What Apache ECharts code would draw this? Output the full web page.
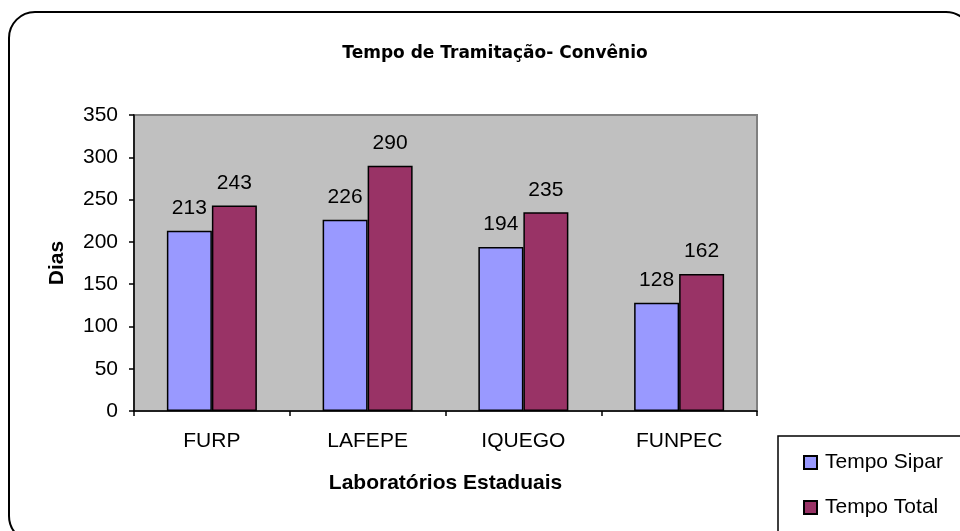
<!DOCTYPE html>
<html>
<head>
<meta charset="utf-8">
<script src="https://cdn.jsdelivr.net/npm/echarts@6/dist/echarts.min.js"></script>
<style>
  html, body { margin: 0; padding: 0; background: #fff; }
  #chart { width: 960px; height: 531px; }
</style>
</head>
<body>
<div id="chart"></div>
<script>
const categories = ['FURP', 'LAFEPE', 'IQUEGO', 'FUNPEC']
const tempoSipar = [213, 226, 194, 128]
const tempoTotal = [243, 290, 235, 162]
const yTicks = { min: 0, max: 350, interval: 50 }

const font = '"Liberation Sans", Arial, sans-serif'
const chart = echarts.init(document.getElementById('chart'), null, { renderer: 'canvas' })

const barLabel = {
  show: true,
  position: 'top',
  distance: 12,
  color: '#000',
  fontSize: 21,
  fontFamily: font
}

chart.setOption({
  animation: false,
  backgroundColor: '#fff',
  textStyle: { fontFamily: font },
  title: {
    text: 'Tempo de Tramitação- Convênio',
    left: 490,
    top: 40,
    textAlign: 'center',
    textStyle: { fontSize: 17, fontWeight: 'bold', color: '#000', fontFamily: '"DejaVu Sans", sans-serif' }
  },
  grid: {
    left: 134,
    right: 203,
    top: 115,
    bottom: 120,
    show: true,
    backgroundColor: '#C0C0C0',
    borderColor: '#808080',
    borderWidth: 2
  },
  legend: {
    orient: 'vertical',
    left: 778,
    top: 436,
    height: 90,
    padding: [16, 60, 40, 25],
    itemGap: 24,
    itemWidth: 13,
    itemHeight: 13,
    icon: 'rect',
    borderColor: '#000',
    borderWidth: 1.5,
    backgroundColor: '#fff',
    textStyle: { fontSize: 21, color: '#000', fontFamily: font, padding: [0, 0, 0, 3] },
    data: ['Tempo Sipar', 'Tempo Total']
  },
  xAxis: {
    type: 'category',
    data: categories,
    name: 'Laboratórios Estaduais',
    nameLocation: 'middle',
    nameGap: 62,
    nameTextStyle: { fontSize: 21, fontWeight: 'bold', color: '#000', fontFamily: font },
    axisLine: { lineStyle: { color: '#000', width: 1.5 } },
    axisTick: { show: true, length: 5, lineStyle: { color: '#000', width: 1.5 } },
    axisLabel: { fontSize: 21, color: '#000', margin: 20, fontFamily: font },
    splitLine: { show: false }
  },
  yAxis: {
    type: 'value',
    min: yTicks.min,
    max: yTicks.max,
    interval: yTicks.interval,
    name: 'Dias',
    nameLocation: 'middle',
    nameGap: 66,
    nameTextStyle: { fontSize: 21, fontWeight: 'bold', color: '#000', fontFamily: font },
    axisLine: { show: true, lineStyle: { color: '#000', width: 1.5 } },
    axisTick: { show: true, length: 5, lineStyle: { color: '#000', width: 1.5 } },
    axisLabel: { fontSize: 21, color: '#000', margin: 16, fontFamily: font },
    splitLine: { show: false }
  },
  series: [
    {
      name: 'Tempo Sipar',
      type: 'bar',
      data: tempoSipar,
      barWidth: 45,
      barGap: '0%',
      itemStyle: { color: '#9999FF', borderColor: '#000', borderWidth: 1.5 },
      label: barLabel
    },
    {
      name: 'Tempo Total',
      type: 'bar',
      data: tempoTotal,
      barWidth: 45,
      barGap: '0%',
      itemStyle: { color: '#993366', borderColor: '#000', borderWidth: 1.5 },
      label: barLabel
    }
  ],
  graphic: [
    {
      type: 'rect',
      z: 100,
      silent: true,
      shape: { x: 9, y: 12, width: 963, height: 530, r: 26 },
      style: { fill: 'none', stroke: '#000', lineWidth: 2 }
    }
  ]
})
</script>
</body>
</html>
